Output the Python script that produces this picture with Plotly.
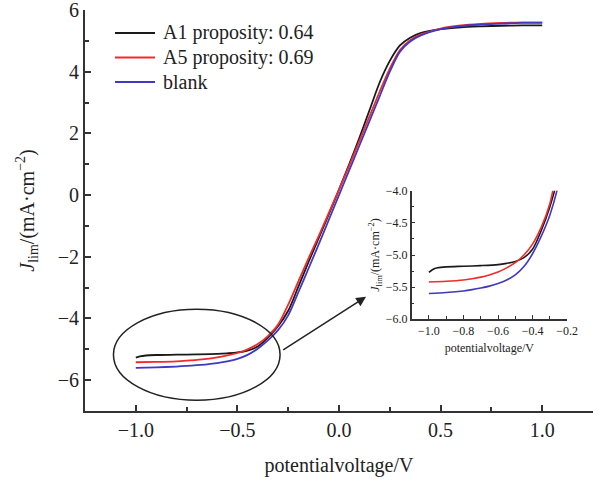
import plotly.graph_objects as go

# ---- data ----
x_a1 = [-1.0, -0.98, -0.95, -0.9, -0.8, -0.7, -0.6, -0.55, -0.5, -0.45, -0.4, -0.35, -0.3, -0.25, -0.2, -0.15,
        -0.1, -0.05, 0.0, 0.05, 0.1, 0.15, 0.2, 0.25, 0.3, 0.35, 0.4, 0.5, 0.6, 0.7, 0.8, 0.9, 1.0]
y_a1 = [-5.27, -5.23, -5.2, -5.185, -5.175, -5.165, -5.15, -5.13, -5.1, -5.04, -4.91, -4.62, -4.25, -3.75, -2.97, -2.17,
        -1.4, -0.62, 0.18, 1.0, 1.85, 2.75, 3.65, 4.35, 4.85, 5.1, 5.25, 5.38, 5.44, 5.47, 5.49, 5.5, 5.5]

x_a5 = [-1.0, -0.9, -0.8, -0.75, -0.7, -0.65, -0.6, -0.55, -0.5, -0.45, -0.4, -0.35, -0.3, -0.25, -0.2, -0.15,
        -0.1, -0.05, 0.0, 0.05, 0.1, 0.15, 0.2, 0.25, 0.3, 0.35, 0.4, 0.5, 0.6, 0.7, 0.8, 0.9, 1.0]
y_a5 = [-5.42, -5.41, -5.39, -5.37, -5.345, -5.31, -5.265, -5.2, -5.12, -5.0, -4.83, -4.57, -4.2, -3.55, -2.8, -2.05,
        -1.33, -0.58, 0.18, 0.95, 1.75, 2.55, 3.35, 4.1, 4.7, 5.02, 5.2, 5.4, 5.5, 5.55, 5.58, 5.6, 5.6]

x_blank = [-1.0, -0.9, -0.8, -0.75, -0.7, -0.65, -0.6, -0.55, -0.5, -0.45, -0.4, -0.35, -0.3, -0.25, -0.2, -0.15,
           -0.1, -0.05, 0.0, 0.05, 0.1, 0.15, 0.2, 0.25, 0.3, 0.35, 0.4, 0.5, 0.6, 0.7, 0.8, 0.9, 1.0]
y_blank = [-5.6, -5.585, -5.56, -5.54, -5.515, -5.485, -5.445, -5.39, -5.31, -5.18, -4.98, -4.71, -4.38, -3.9, -3.15, -2.38,
           -1.6, -0.8, 0.0, 0.8, 1.6, 2.4, 3.2, 4.0, 4.65, 4.98, 5.17, 5.38, 5.48, 5.53, 5.56, 5.58, 5.58]

names = ["A1 proposity: 0.64", "A5 proposity: 0.69", "blank"]
colors = ["#1a1a1a", "#f22a2a", "#4338c0"]

FONT = "Liberation Serif, Times New Roman, serif"
AX = "#333333"

fig = go.Figure()
series = [(x_a1, y_a1), (x_a5, y_a5), (x_blank, y_blank)]
for (xs, ys), nm, c in zip(series, names, colors):
    fig.add_trace(go.Scatter(x=xs, y=ys, mode="lines", name=nm, showlegend=False,
                             line=dict(color=c, width=1.8, shape="spline", smoothing=0.8)))
for (xs, ys), nm, c in zip(series, names, colors):
    fig.add_trace(go.Scatter(x=xs, y=ys, mode="lines", name=nm, showlegend=False,
                             xaxis="x2", yaxis="y2",
                             line=dict(color=c, width=1.6, shape="spline", smoothing=0.8)))

fig.update_layout(
    width=612, height=483,
    margin=dict(l=85, r=19, t=10, b=72),
    paper_bgcolor="white", plot_bgcolor="white",
    font=dict(family=FONT, size=20, color="#222"),
    showlegend=False,
    xaxis=dict(range=[-1.25, 1.25], domain=[0, 1], tickmode="linear", tick0=0, dtick=0.5,
               tickformat=".1f", ticks="inside", ticklen=6, tickwidth=1.5, tickcolor=AX,
               showline=True, linecolor=AX, linewidth=2, showgrid=False, zeroline=False,
               automargin=False, ticklabeloverflow="allow",
               minor=dict(dtick=0.25, ticks="inside", ticklen=4, tickwidth=1.5, tickcolor=AX),
               tickfont=dict(size=20),
               title=dict(text="potentialvoltage/V", standoff=18, font=dict(size=20))),
    yaxis=dict(range=[-7, 6], domain=[0, 1], tickmode="linear", tick0=0, dtick=2,
               ticks="inside", ticklen=6, tickwidth=1.5, tickcolor=AX,
               showline=True, linecolor=AX, linewidth=2, showgrid=False, zeroline=False,
               automargin=False, ticklabeloverflow="allow",
               minor=dict(dtick=1, ticks="inside", ticklen=4, tickwidth=1.5, tickcolor=AX),
               tickfont=dict(size=20),
               title=dict(text="<i>J</i><sub>lim</sub>/(mA·cm<sup>−2</sup>)", standoff=18,
                          font=dict(size=20))),
    xaxis2=dict(range=[-1.1, -0.2], domain=[0.643, 0.949], anchor="y2",
                tickmode="linear", tick0=-1.0, dtick=0.2, tickformat=".1f",
                ticks="inside", ticklen=4, tickwidth=1.2, tickcolor=AX,
                showline=True, linecolor=AX, linewidth=1.6, showgrid=False, zeroline=False,
                automargin=False,
                minor=dict(dtick=0.1, ticks="inside", ticklen=3, tickwidth=1.2, tickcolor=AX),
                tickfont=dict(size=12),
                title=dict(text="potentialvoltage/V", standoff=6, font=dict(size=12))),
    yaxis2=dict(range=[-6, -4], domain=[0.229, 0.549], anchor="x2",
                tickmode="linear", tick0=-4.0, dtick=0.5, tickformat=".1f",
                ticks="inside", ticklen=4, tickwidth=1.2, tickcolor=AX,
                showline=True, linecolor=AX, linewidth=1.6, showgrid=False, zeroline=False,
                automargin=False,
                minor=dict(dtick=0.25, ticks="inside", ticklen=3, tickwidth=1.2, tickcolor=AX),
                tickfont=dict(size=12),
                title=dict(text="<i>J</i><sub>lim</sub>/(mA·cm<sup>−2</sup>)", standoff=3,
                           font=dict(size=12))),
)

# legend drawn as line samples + labels (paper coordinates of the plot area)
PLOT_L, PLOT_W, PLOT_B, PLOT_H = 85, 508, 411, 401
def px_x(p):
    return (p - PLOT_L) / PLOT_W
def px_y(p):
    return (PLOT_B - p) / PLOT_H
legend_rows = [33, 57.5, 82]
for nm, c, row in zip(names, colors, legend_rows):
    fig.add_shape(type="line", xref="paper", yref="paper",
                  x0=px_x(115), x1=px_x(155), y0=px_y(row), y1=px_y(row),
                  line=dict(color=c, width=1.8))
    fig.add_annotation(xref="paper", yref="paper", x=px_x(161), y=px_y(row),
                       xanchor="left", yanchor="middle", showarrow=False,
                       text=nm, font=dict(size=20, color="#222"))

# ellipse around the low-potential region
fig.add_shape(type="circle", xref="x", yref="y", x0=-1.11, x1=-0.29, y0=-6.65, y1=-3.70,
              line=dict(color="#222", width=1.5))

# arrow pointing to the inset
fig.add_annotation(x=0.133, y=-3.30, ax=-0.282, ay=-5.05, xref="x", yref="y",
                   axref="x", ayref="y", showarrow=True, arrowhead=2, arrowsize=1.3,
                   arrowwidth=1.5, arrowcolor="#222", text="")

fig.write_html("out.html")
